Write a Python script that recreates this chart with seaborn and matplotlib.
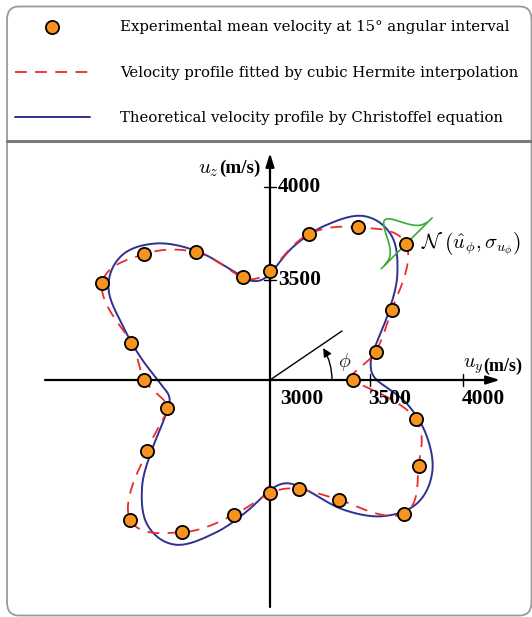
import numpy as np
import pandas as pd
import matplotlib
matplotlib.use("Agg")
import matplotlib.pyplot as plt
import seaborn as sns
from matplotlib.patches import FancyBboxPatch, FancyArrowPatch
from matplotlib.lines import Line2D

# ---------------------------------------------------------------- data
R0 = 2960  # velocity sitting at the origin of the sketch (m/s)

exp_angle = np.arange(0, 360, 15)  # degrees
exp_velocity = [3406, 3548, 3716, 3994, 3907, 3773, 3546, 3531,
                3753, 3917, 4002, 3731, 3636, 3533, 3724, 4023,
                3905, 3710, 3568, 3567, 3703, 3977, 3882, 3770]

theory_angle = np.arange(0, 360, 10)  # degrees
theory_velocity = [3534, 3510, 3574, 3698, 3854, 3975, 3977, 3847, 3689,
                   3530, 3501, 3596, 3764, 3918, 4001, 3963, 3800, 3667,
                   3564, 3509, 3564, 3688, 3858, 3982, 3982, 3837, 3677,
                   3552, 3524, 3603, 3769, 3915, 3992, 3966, 3859, 3710]

axis_ticks = [3500, 4000]
origin_label = "3000"

legend_labels = [
    "Experimental mean velocity at 15° angular interval",
    "Velocity profile fitted by cubic Hermite interpolation",
    "Theoretical velocity profile by Christoffel equation",
]

ORANGE = "#f7931e"
RED = "#ee2a2a"
BLUE = "#2e3192"
GREEN = "#3aa935"

# ---------------------------------------------------------------- helpers
def closed_hermite(angle_deg, values, n=60):
    """Periodic cubic Hermite curve r(theta) with centred-difference slopes."""
    th = np.deg2rad(np.asarray(angle_deg, float))
    r = np.asarray(values, float)
    step = th[1] - th[0]
    m = (np.roll(r, -1) - np.roll(r, 1)) / 2.0
    t = np.linspace(0, 1, n, endpoint=False)
    h00 = 2 * t**3 - 3 * t**2 + 1
    h10 = t**3 - 2 * t**2 + t
    h01 = -2 * t**3 + 3 * t**2
    h11 = t**3 - t**2
    th_out, r_out = [], []
    for i in range(len(r)):
        j = (i + 1) % len(r)
        r_out.append(h00 * r[i] + h10 * m[i] + h01 * r[j] + h11 * m[j])
        th_out.append(th[i] + t * step)
    th_out = np.concatenate(th_out + [th[:1]])
    r_out = np.concatenate(r_out + [r[:1]])
    return th_out, r_out


def to_xy(theta, v):
    rho = np.asarray(v, float) - R0
    return rho * np.cos(theta), rho * np.sin(theta)


# ---------------------------------------------------------------- figure
W, H, DPI = 532, 617, 100
K = 0.186          # pixels per m/s
OX, OY = 270, 380  # origin position in pixels
PT = 72 / DPI      # points per pixel

sns.set_style("white")
plt.rcParams["mathtext.fontset"] = "cm"
plt.rcParams["font.family"] = ["DejaVu Serif"]
plt.rcParams["text.color"] = "black"
plt.rcParams["lines.scale_dashes"] = False

fig = plt.figure(figsize=(W / DPI, H / DPI), dpi=DPI)
ax = fig.add_axes([0, 0, 1, 1])
ax.set_xlim(-OX / K, (W - OX) / K)
ax.set_ylim(-(H - OY) / K, OY / K)
ax.axis("off")

# frame and separator of the legend panel
fig.patches.append(FancyBboxPatch((7 / W, 1.5 / H), (W - 7.5) / W, (H - 8) / H,
                                  boxstyle="round,pad=0,rounding_size=0.022",
                                  transform=fig.transFigure, fill=False,
                                  ec="#9a9a9a", lw=1.3))
fig.add_artist(Line2D([7 / W, 1.0], [1 - 141 / H, 1 - 141 / H],
                      transform=fig.transFigure, color="#7a7a7a", lw=2.2))

# coordinate axes with arrow heads
arrow_kw = dict(arrowstyle="-|>,head_length=0.8,head_width=0.25",
                lw=1.6, color="black", shrinkA=0, shrinkB=0)
ax.annotate("", xy=((500 - OX) / K, 0), xytext=((45 - OX) / K, 0),
            arrowprops=arrow_kw)
ax.annotate("", xy=(0, (OY - 153) / K), xytext=(0, -(607 - OY) / K),
            arrowprops=arrow_kw)

tick_half = 6 / K
lab_kw = dict(fontsize=21.5 * PT, family="Liberation Serif", fontweight="bold")
for v in axis_ticks:
    p = v - R0
    ax.plot([p, p], [-tick_half, tick_half], color="black", lw=1.0)
    ax.plot([-tick_half, tick_half], [p, p], color="black", lw=1.0)
    ax.text(p - 2 / K, -9 / K, str(v), ha="left", va="top", **lab_kw)
    ax.text(8 / K, p, str(v), ha="left", va="center", **lab_kw)
ax.text(10 / K, -9 / K, origin_label, ha="left", va="top", **lab_kw)

unit_kw = dict(fontsize=18 * PT, family="Liberation Serif", fontweight="bold",
               ha="left", va="baseline")
ty = ax.text(193 / K, 12 / K, r"$u_y$", fontsize=20 * PT, ha="left",
             va="baseline")
ax.annotate("(m/s)", xy=(1, 0), xycoords=ty, xytext=(0, 4),
            textcoords="offset points", **unit_kw)
tz = ax.text(-72 / K, 207 / K, r"$u_z$", fontsize=21 * PT, ha="left",
             va="baseline")
ax.annotate("(m/s)", xy=(1, 0), xycoords=tz, xytext=(0, 4),
            textcoords="offset points",
            **{**unit_kw, "fontsize": 19 * PT})

# angle phi
ax.plot([0, 72 / K], [0, 49 / K], color="black", lw=1.0)
arc_r = 62 / K
a1 = np.deg2rad(31)
ax.add_patch(FancyArrowPatch((arc_r, 0), (arc_r * np.cos(a1), arc_r * np.sin(a1)),
                             connectionstyle=f"arc3,rad={np.tan(a1 / 4):.3f}",
                             arrowstyle="-|>,head_length=5,head_width=2.5",
                             color="black", lw=1.0, shrinkA=0, shrinkB=0))
ax.text(75 / K, 18 / K, r"$\phi$", fontsize=20 * PT, ha="center", va="center",
        color="#222222")

# theoretical profile
th_t, r_t = closed_hermite(theory_angle, theory_velocity, n=40)
xt, yt = to_xy(th_t, r_t)
sns.lineplot(x=xt, y=yt, sort=False, estimator=None, color=BLUE, lw=1.4,
             ax=ax, label=legend_labels[2], legend=False)

# fitted cubic Hermite profile
th_f, r_f = closed_hermite(exp_angle, exp_velocity, n=60)
xf, yf = to_xy(th_f, r_f)
sns.lineplot(x=xf, y=yf, sort=False, estimator=None, color=RED, lw=1.3,
             linestyle=(0, (8.5, 6)), ax=ax, label=legend_labels[1], legend=False)

# experimental points
xe, ye = to_xy(np.deg2rad(exp_angle), exp_velocity)
pts = pd.DataFrame({"x": xe, "y": ye})
sns.scatterplot(data=pts, x="x", y="y", s=90, color=ORANGE, edgecolor="black",
                linewidth=1.3, ax=ax, zorder=5, label=legend_labels[0],
                legend=False)

# normal distribution sketch at phi = 45 deg
i45 = list(exp_angle).index(45)
rho45 = exp_velocity[i45] - R0
c = np.deg2rad(45)
u_rad = np.array([np.cos(c), np.sin(c)])
u_tan = np.array([-np.sin(c), np.cos(c)])
centre = rho45 * u_rad
s_base = np.array([-35, 37]) / K
base = centre[:, None] + u_rad[:, None] * s_base
ax.plot(base[0], base[1], color=GREEN, lw=1.2)
s = np.linspace(-30, 30, 120) / K
h = (32 / K) * np.exp(-((s - 2 / K) ** 2) / (2 * (10 / K) ** 2))
bell = centre[:, None] + u_rad[:, None] * s + u_tan[:, None] * h
ax.plot(bell[0], bell[1], color=GREEN, lw=1.2)
ax.text(151 / K, 136 / K,
        r"$\mathcal{N}\ \left(\hat{u}_{\phi},\sigma_{u_{\phi}}\right)$",
        fontsize=20.5 * PT, ha="left", va="center")

# legend
line_handles = {l.get_label(): l for l in ax.lines}
handles = [ax.collections[0], line_handles[legend_labels[1]],
           line_handles[legend_labels[2]]]
fs = 14.9
fig.legend(handles, legend_labels, loc="upper left",
           bbox_to_anchor=(15 / W, 1 - 20 / H), frameon=False,
           fontsize=fs * PT, handlelength=75 / fs, handletextpad=30 / fs,
           labelspacing=2.13, borderpad=0, borderaxespad=0)

fig.savefig("out.png", dpi=DPI)
